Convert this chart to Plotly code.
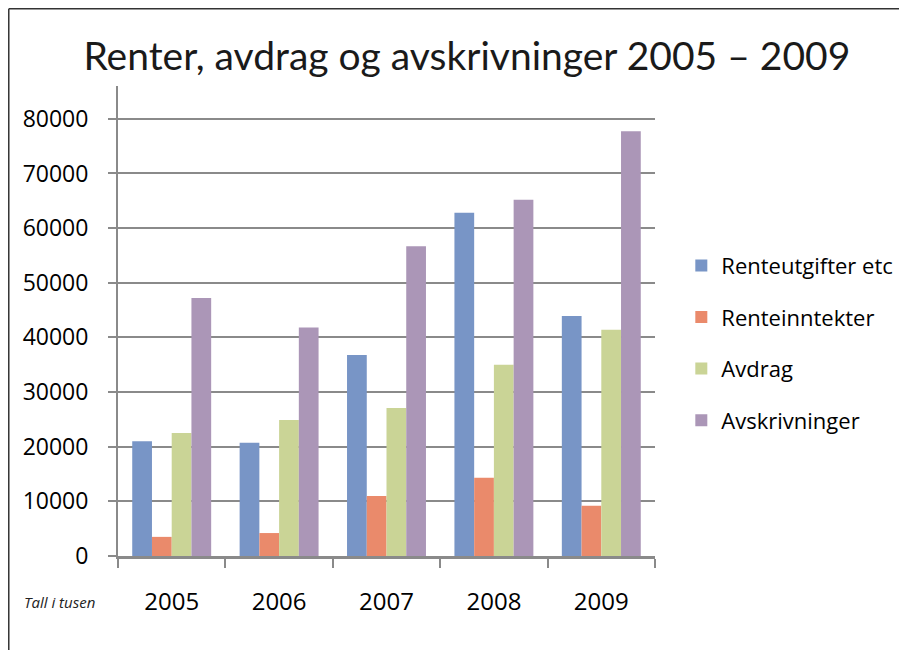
import plotly.graph_objs as go

# Data (tall i tusen)
years = ['2005', '2006', '2007', '2008', '2009']
renteutgifter = [21000, 20700, 36800, 62800, 43900]
renteinntekter = [3500, 4200, 11000, 14300, 9200]
avdrag = [22500, 24900, 27100, 35000, 41400]
avskrivninger = [47200, 41800, 56700, 65200, 77700]

series = [
    ('Renteutgifter etc', renteutgifter, '#7895C6'),
    ('Renteinntekter', renteinntekter, '#EA8A6B'),
    ('Avdrag', avdrag, '#CAD496'),
    ('Avskrivninger', avskrivninger, '#AB96B7'),
]

fig = go.Figure()
for i, (name, vals, color) in enumerate(series):
    fig.add_trace(go.Bar(
        x=years, y=vals, name=name, legendgroup=str(i),
        marker=dict(color=color, line=dict(width=0)),
    ))

font_main = 'Open Sans, Noto Sans, sans-serif'

# page has an 8px body margin, so the figure is kept inside it (no scrollbars)
fig.update_layout(
    width=891, height=642,
    margin=dict(l=110, r=244, t=78, b=94, autoexpand=False),
    paper_bgcolor='white', plot_bgcolor='white',
    barmode='group', bargap=0.265, bargroupgap=0,
    title=dict(
        text='Renter, avdrag og avskrivninger 2005 – 2009',
        font=dict(family='Lato, sans-serif', size=39, color='#1a1a1a'),
        x=0.515, xanchor='center', y=0.924, yanchor='middle',
    ),
    legend=dict(
        x=1.049, xanchor='left', y=0.453, yanchor='middle',
        font=dict(family=font_main, size=22, color='black'),
        traceorder='grouped', tracegroupgap=20,
        bgcolor='rgba(0,0,0,0)',
    ),
    showlegend=True,
)

fig.update_yaxes(
    range=[0, 86000],
    tickvals=[0, 10000, 20000, 30000, 40000, 50000, 60000, 70000, 80000],
    tickformat='d',
    showgrid=True, gridcolor='#8a8a8a', gridwidth=2,
    showline=True, linecolor='#8a8a8a', linewidth=2,
    ticks='outside', ticklen=8, tickwidth=2, tickcolor='#8a8a8a',
    tickfont=dict(family=font_main, size=23, color='black'),
    ticklabelstandoff=15,
    zeroline=False,
)
fig.update_xaxes(
    showline=True, linecolor='#8a8a8a', linewidth=3,
    ticks='outside', tickson='boundaries', ticklen=9, tickwidth=2, tickcolor='#8a8a8a',
    tickfont=dict(family=font_main, size=24, color='black'),
    ticklabelstandoff=22,
)

fig.add_annotation(
    text='<i>Tall i tusen</i>', xref='paper', yref='paper',
    x=-0.179, y=-0.098, xanchor='left', yanchor='middle', showarrow=False,
    font=dict(family=font_main, size=15, color='#222'),
)

# slide frame: only top and left edges show
frame = dict(color='#333', width=1.5)
fig.add_shape(type='line', xref='paper', yref='paper',
              x0=-0.2034, x1=1.5, y0=1.1644, y1=1.1644, line=frame)
fig.add_shape(type='line', xref='paper', yref='paper',
              x0=-0.2034, x1=-0.2034, y0=-0.25, y1=1.1644, line=frame)

fig.write_html("out.html")
